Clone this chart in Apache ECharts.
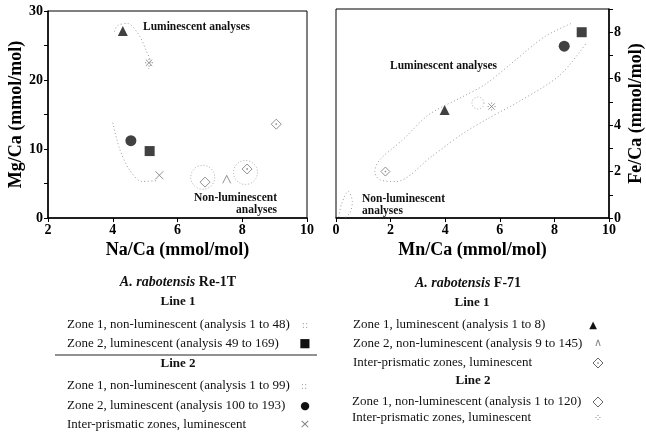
<!DOCTYPE html>
<html>
<head>
<meta charset="utf-8">
<script src="https://cdn.jsdelivr.net/npm/echarts@6/dist/echarts.min.js"></script>
<style>
html, body { margin: 0; padding: 0; background: #fff; }
#main { width: 646px; height: 437px; }
</style>
</head>
<body>
<div id="main"></div>
<script>
// ---- Na/Ca vs Mg/Ca (left) ----
var naTicks = [2, 4, 6, 8, 10];
var mgTicks = [0, 10, 20, 30];
var naMgSquare = [[5.14, 9.7]];          // Re-1T line 1 zone 2
var naMgCircle = [[4.56, 11.2]];         // Re-1T line 2 zone 2
var naMgCross = [[5.44, 6.2]];           // Re-1T line 2 inter-prismatic
var naMgCluster = [[6.78, 5.9], [8.1, 6.6]]; // Re-1T zone 1 non-lum clouds
var naMgTriangle = [[4.31, 27.1]];       // F-71 line 1 zone 1
var naMgCaret = [[7.52, 5.6]];           // F-71 line 1 zone 2
var naMgDiamondDot = [[9.05, 13.6], [8.15, 7.1]]; // F-71 line 1 inter-prismatic
var naMgDiamond = [[6.85, 5.2]];         // F-71 line 2 zone 1
var naMgStar = [[5.12, 22.5]];           // F-71 line 2 inter-prismatic
var naMgLumEnvelope = [[4.05, 27.0], [4.15, 27.9], [4.45, 28.2], [4.8, 26.6], [5.02, 24.4], [5.18, 22.3], [5.1, 21.6]];
var naMgNonEnvelope = [[4.0, 13.8], [4.2, 10.2], [4.5, 7.1], [4.9, 5.3], [5.35, 5.4]];

// ---- Mn/Ca vs Fe/Ca (right) ----
var mnTicks = [0, 2, 4, 6, 8, 10];
var feTicks = [0, 1, 2, 3, 4, 5, 6, 7, 8, 9];
var feLabels = ['0', '', '2', '', '4', '', '6', '', '8', ''];
var mnFeSquare = [[9.0, 8.0]];
var mnFeCircle = [[8.36, 7.4]];
var mnFeTriangle = [[3.98, 4.65]];
var mnFeDiamondDot = [[1.81, 2.0]];
var mnFeStar = [[5.7, 4.8]];
var mnFeCluster = [[5.2, 4.95]];
var mnFeLumEnvelope = [[8.6, 8.37], [7.63, 7.8], [6.42, 6.65], [5.46, 5.75], [4.6, 5.2], [3.4, 4.45], [2.44, 3.36], [1.6, 2.5],
	[1.42, 2.0], [1.6, 1.65], [2.2, 1.57], [3.5, 2.65], [4.6, 3.6], [5.58, 4.29], [6.8, 5.08], [8.2, 6.15], [9.2, 7.58]];
var mnFeNonEnvelope = [[0.1, 0.05], [0.2, 0.6], [0.45, 1.15], [0.6, 0.7], [0.5, 0.2], [0.3, 0.0]];

// ---- legend texts ----
var speciesName = 'A. rabotensis';
var re1tCode = 'Re-1T';
var re1tLine1 = ['Zone 1, non-luminescent (analysis 1 to 48)', 'Zone 2, luminescent (analysis 49 to 169)'];
var re1tLine2 = ['Zone 1, non-luminescent (analysis 1 to 99)', 'Zone 2, luminescent (analysis 100 to 193)', 'Inter-prismatic zones, luminescent'];
var f71Code = 'F-71';
var f71Line1 = ['Zone 1, luminescent (analysis 1 to 8)', 'Zone 2, non-luminescent (analysis 9 to 145)', 'Inter-prismatic zones, luminescent'];
var f71Line2 = ['Zone 1, non-luminescent (analysis 1 to 120)', 'Inter-prismatic zones, luminescent'];

var SERIF = 'Liberation Serif';
var SYM = {
	cross : 'path://M0,0L10,10M10,0L0,10',
	caret : 'path://M0,10L5,0L10,10',
	diamond : 'path://M5,0L10,5L5,10L0,5Z',
	diamondDot : 'path://M5,0L10,5L5,10L0,5Z M4.6,4.6L5.4,4.6L5.4,5.4L4.6,5.4Z',
	star : 'path://M1,1L9,9M9,1L1,9M5,0L5,1.5M0,5L1.5,5M8.5,5L10,5M5,8.5L5,10'
};

function filled(idx, data, symbol, size) {
	return {
		type : 'scatter', xAxisIndex : idx, yAxisIndex : idx, data : data,
		symbol : symbol, symbolSize : size, silent : true,
		itemStyle : { color : '#111' }
	};
}
function hollow(idx, data, symbol, size) {
	return {
		type : 'scatter', xAxisIndex : idx, yAxisIndex : idx, data : data,
		symbol : symbol, symbolSize : size, silent : true,
		itemStyle : { color : 'rgba(0,0,0,0)', borderColor : '#777', borderWidth : 1 }
	};
}
function cloud(idx, data, size) {
	return {
		type : 'scatter', xAxisIndex : idx, yAxisIndex : idx, data : data,
		symbol : 'circle', symbolSize : size, silent : true,
		itemStyle : { color : 'rgba(0,0,0,0)', borderColor : '#999', borderWidth : 1, borderType : [1, 2] }
	};
}
function envelope(idx, data) {
	return {
		type : 'line', xAxisIndex : idx, yAxisIndex : idx, data : data,
		smooth : 0.3, symbol : 'none', silent : true,
		lineStyle : { color : '#999', width : 1, type : [1, 2.5] }
	};
}

function valueAxis(idx, ticks, extra) {
	var ax = {
		gridIndex : idx, type : 'value',
		min : ticks[0], max : ticks[ticks.length - 1], interval : ticks[1] - ticks[0],
		axisLine : { show : true, onZero : false, lineStyle : { color : '#000', width : 1.5 } },
		axisTick : { show : true, length : 4, lineStyle : { color : '#000', width : 1 } },
		axisLabel : { color : '#000', fontFamily : SERIF, fontWeight : 'bold', fontSize : 14, margin : 5 },
		splitLine : { show : false },
		nameLocation : 'middle',
		nameTextStyle : { color : '#000', fontFamily : SERIF, fontWeight : 'bold', fontSize : 18 }
	};
	for ( var k in extra) {
		ax[k] = extra[k];
	}
	return ax;
}

var feAxis = valueAxis(1, feTicks, { position : 'right', name : 'Fe/Ca (mmol/mol)', nameGap : 18 });
feAxis.axisLabel.formatter = function(v) {
	return feLabels[feTicks.indexOf(v)] || '';
};

var option = {
	animation : false,
	backgroundColor : '#fff',
	grid : [ {
		left : 48, top : 11, width : 259, height : 207,
		show : true, borderColor : '#000', borderWidth : 1
	}, {
		left : 336, top : 9, width : 276, height : 209,
		show : true, borderColor : '#000', borderWidth : 1
	} ],
	xAxis : [ valueAxis(0, naTicks, { name : 'Na/Ca (mmol/mol)', nameGap : 23 }),
		valueAxis(1, mnTicks, { name : 'Mn/Ca (mmol/mol)', nameGap : 23 }) ],
	yAxis : [ valueAxis(0, mgTicks, {
		name : 'Mg/Ca (mmol/mol)', nameGap : 17,
		minorTick : { show : true, splitNumber : 2, length : 4, lineStyle : { color : '#000' } }
	}), feAxis ],
	series : [
		envelope(0, naMgLumEnvelope), envelope(0, naMgNonEnvelope),
		cloud(0, naMgCluster, 24),
		filled(0, naMgSquare, 'rect', 10), filled(0, naMgCircle, 'circle', 11),
		hollow(0, naMgCross, SYM.cross, 8), filled(0, naMgTriangle, 'triangle', 10),
		hollow(0, naMgCaret, SYM.caret, 8), hollow(0, naMgDiamondDot, SYM.diamondDot, 10),
		hollow(0, naMgDiamond, SYM.diamond, 10), hollow(0, naMgStar, SYM.star, 8),

		envelope(1, mnFeLumEnvelope), envelope(1, mnFeNonEnvelope),
		cloud(1, mnFeCluster, 12),
		filled(1, mnFeSquare, 'rect', 10), filled(1, mnFeCircle, 'circle', 11),
		filled(1, mnFeTriangle, 'triangle', 10), hollow(1, mnFeDiamondDot, SYM.diamondDot, 9),
		hollow(1, mnFeStar, SYM.star, 8)
	],
	graphic : []
};

// annotations inside the plots
function label(x, y, text, align, size, weight, rich) {
	return {
		type : 'text', x : x, y : y, silent : true,
		style : {
			text : text, align : align || 'left', verticalAlign : 'middle', fill : '#111',
			font : (weight || 'bold') + ' ' + (size || 11.5) + 'px "' + SERIF + '"', rich : rich
		}
	};
}
var g = option.graphic;
g.push(label(143, 27, 'Luminescent analyses'));
g.push(label(277, 198, 'Non-luminescent', 'right'));
g.push(label(277, 210, 'analyses', 'right'));
g.push(label(390, 66, 'Luminescent analyses'));
g.push(label(362, 199, 'Non-luminescent'));
g.push(label(362, 211, 'analyses'));

// legend blocks under the plots
var titleRich = {
	i : { fontFamily : SERIF, fontStyle : 'italic', fontWeight : 'bold', fontSize : 14, fill : '#111' },
	n : { fontFamily : SERIF, fontWeight : 'bold', fontSize : 14, fill : '#111' }
};
function title(x, y, code) {
	return label(x, y, '{i|' + speciesName + '} {n|' + code + '}', 'center', 14, 'bold', titleRich);
}
function glyph(x, y, ch, color, size) {
	return {
		type : 'text', x : x, y : y, silent : true,
		style : { text : ch, align : 'center', verticalAlign : 'middle', fill : color, font : (size || 12) + 'px "DejaVu Sans"' }
	};
}
function diamondDot(x, y, dot) {
	var s = 5;
	var items = [ {
		type : 'polygon', silent : true,
		shape : { points : [[x, y - s], [x + s, y], [x, y + s], [x - s, y]] },
		style : { fill : 'none', stroke : '#666', lineWidth : 1 }
	} ];
	if (dot) {
		items.push({ type : 'circle', silent : true, shape : { cx : x, cy : y, r : 0.8 }, style : { fill : '#666' } });
	}
	return items;
}

var legendFont = 'normal';
g.push(title(178, 282, re1tCode));
g.push(label(178, 302, 'Line 1', 'center', 13));
var leftRowsY = [325, 344];
re1tLine1.forEach(function(t, i) {
	g.push(label(67, leftRowsY[i], t, 'left', 13, legendFont));
});
g.push(glyph(305, 325, '::', '#aaa', 10));
g.push(glyph(305, 344, '■', '#111', 12));
g.push({ type : 'line', silent : true, shape : { x1 : 55, y1 : 355, x2 : 317, y2 : 355 }, style : { stroke : '#222', lineWidth : 1 } });
g.push(label(178, 364, 'Line 2', 'center', 13));
var leftRows2Y = [386, 406, 425];
re1tLine2.forEach(function(t, i) {
	g.push(label(67, leftRows2Y[i], t, 'left', 13, legendFont));
});
g.push(glyph(304, 386, '::', '#aaa', 10));
g.push(glyph(305, 406, '●', '#111', 11));
g.push(glyph(305, 425, '×', '#888', 13));

g.push(title(468, 283, f71Code));
g.push(label(472, 303, 'Line 1', 'center', 13));
var rightRowsY = [325, 344, 363];
f71Line1.forEach(function(t, i) {
	g.push(label(353, rightRowsY[i], t, 'left', 13, legendFont));
});
g.push(glyph(593, 325, '▲', '#111', 10));
g.push(glyph(598, 343, '∧', '#888', 11));
diamondDot(598, 363, true).forEach(function(e) { g.push(e); });
g.push(label(473, 381, 'Line 2', 'center', 13));
var rightRows2Y = [402, 418];
f71Line2.forEach(function(t, i) {
	g.push(label(352, rightRows2Y[i], t, 'left', 13, legendFont));
});
diamondDot(598, 402, false).forEach(function(e) { g.push(e); });
g.push(glyph(598, 418, '⁘', '#888', 10));

var chart = echarts.init(document.getElementById('main'));
chart.setOption(option);
</script>
</body>
</html>
